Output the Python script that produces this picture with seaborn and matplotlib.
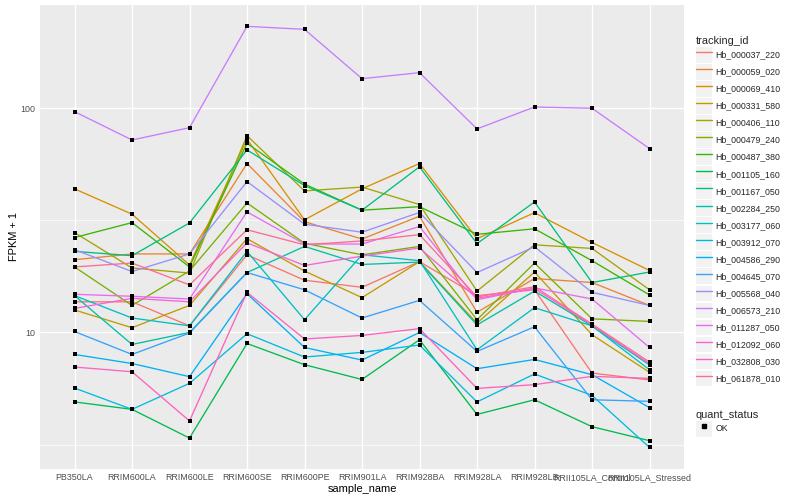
import numpy as np
import pandas as pd
import matplotlib
matplotlib.use("Agg")
import matplotlib.pyplot as plt
from matplotlib.lines import Line2D
from matplotlib.patches import Patch
import seaborn as sns

samples = ["PB350LA", "RRIM600LA", "RRIM600LE", "RRIM600SE", "RRIM600PE", "RRIM901LA",
           "RRIM928BA", "RRIM928LA", "RRIM928LB", "RRII105LA_Control", "RRII105LA_Stressed"]

tracking_ids = ["Hb_000037_220", "Hb_000059_020", "Hb_000069_410", "Hb_000331_580",
                "Hb_000406_110", "Hb_000479_240", "Hb_000487_380", "Hb_001105_160",
                "Hb_001167_050", "Hb_002284_250", "Hb_003177_060", "Hb_003912_070",
                "Hb_004586_290", "Hb_004645_070", "Hb_005568_040", "Hb_006573_210",
                "Hb_011287_050", "Hb_012092_060", "Hb_032808_030", "Hb_061878_010"]

# FPKM + 1 values per gene, in sample order
hb_000037_220 = [13.7, 13.7, 10.7, 22.2, 17.1, 15.9, 20.7, 14.6, 15.5, 6.59, 6.14]
hb_000059_020 = [21.1, 22.4, 22.4, 56.7, 31.2, 26.1, 33.0, 12.3, 17.4, 16.7, 13.2]
hb_000069_410 = [43.7, 33.7, 20.0, 72.8, 31.8, 43.7, 56.7, 26.2, 34.2, 25.2, 18.9]
hb_000331_580 = [12.6, 10.5, 13.2, 26.2, 18.8, 14.3, 20.7, 11.0, 18.6, 9.77, 6.64]
hb_000406_110 = [27.9, 19.4, 18.4, 75.5, 42.8, 44.5, 37.2, 15.3, 24.6, 23.7, 15.5]
hb_000479_240 = [19.6, 13.2, 18.8, 37.8, 25.0, 22.2, 24.2, 11.4, 20.4, 11.5, 11.2]
hb_000487_380 = [26.5, 30.9, 19.6, 69.8, 45.9, 35.1, 36.4, 27.4, 29.0, 20.9, 14.7]
hb_001105_160 = [4.90, 4.54, 3.38, 8.93, 7.18, 6.17, 9.28, 4.31, 5.01, 3.80, 3.29]
hb_001167_050 = [23.0, 22.0, 30.8, 65.2, 45.2, 35.1, 54.8, 24.9, 38.2, 16.7, 18.6]
hb_002284_250 = [14.6, 8.84, 10.0, 18.5, 24.2, 20.1, 20.6, 10.8, 15.3, 10.7, 7.16]
hb_003177_060 = [14.6, 11.6, 10.7, 23.0, 11.4, 22.2, 20.9, 8.37, 12.9, 10.7, 6.82]
hb_003912_070 = [5.65, 4.54, 5.93, 9.87, 7.77, 8.15, 8.79, 4.90, 6.53, 5.24, 3.07]
hb_004586_290 = [7.98, 7.27, 6.35, 14.9, 8.57, 7.53, 10.0, 6.89, 7.58, 6.48, 4.62]
hb_004645_070 = [10.1, 7.98, 9.94, 18.5, 15.5, 11.6, 13.9, 8.23, 10.6, 5.01, 4.93]
hb_005568_040 = [23.4, 18.7, 22.4, 47.1, 30.4, 28.0, 34.3, 18.5, 24.1, 15.1, 13.2]
hb_006573_210 = [96.6, 72.2, 81.9, 231.9, 224.9, 135.5, 144.1, 80.9, 101.3, 100.0, 66.1]
hb_011287_050 = [14.8, 14.5, 14.1, 34.5, 24.8, 24.8, 29.7, 14.0, 15.8, 14.1, 8.57]
hb_012092_060 = [12.8, 14.2, 13.7, 25.1, 19.9, 21.9, 23.8, 14.2, 15.7, 10.8, 7.25]
hb_032808_030 = [7.01, 6.68, 4.03, 15.1, 9.35, 9.70, 10.4, 5.63, 5.85, 6.37, 6.24]
hb_061878_010 = [19.6, 20.4, 16.3, 28.7, 24.6, 25.6, 27.3, 14.4, 16.0, 10.9, 7.38]

series = [hb_000037_220, hb_000059_020, hb_000069_410, hb_000331_580, hb_000406_110,
          hb_000479_240, hb_000487_380, hb_001105_160, hb_001167_050, hb_002284_250,
          hb_003177_060, hb_003912_070, hb_004586_290, hb_004645_070, hb_005568_040,
          hb_006573_210, hb_011287_050, hb_012092_060, hb_032808_030, hb_061878_010]

quant_status = "OK"

# ggplot2 default hue palette for 20 levels
colors = ["#F8766D", "#EA8331", "#D89000", "#C09B00", "#A3A500", "#7CAE00", "#39B600",
          "#00BB4E", "#00BF7D", "#00C1A3", "#00BFC4", "#00BAE0", "#00B0F6", "#35A2FF",
          "#9590FF", "#C77CFF", "#E76BF3", "#FA62DB", "#FF62BC", "#FF6C91"]

rows = []
for tid, vals in zip(tracking_ids, series):
    for s, v in zip(samples, vals):
        rows.append({"tracking_id": tid, "sample_name": s, "fpkm": v, "quant_status": quant_status})
df = pd.DataFrame(rows)

sns.set_theme(style="darkgrid")
plt.rcParams["font.family"] = ["Liberation Sans", "DejaVu Sans"]

fig = plt.figure(figsize=(8, 5), dpi=100)
ax = fig.add_axes([40 / 800, 1 - 468.5 / 500, (684 - 40) / 800, (468.5 - 5.3) / 500])
ax.set_facecolor("#EBEBEB")

sns.lineplot(data=df, x="sample_name", y="fpkm", hue="tracking_id", hue_order=tracking_ids,
             palette=colors, sort=False, estimator=None, legend=False, linewidth=0.95, ax=ax)
sns.scatterplot(data=df, x="sample_name", y="fpkm", color="black", marker="s", s=8,
                linewidth=0, legend=False, ax=ax, zorder=3)

ax.set_yscale("log")
ax.set_yticks([10, 100])
ax.set_yticklabels(["10", "100"])
ax.set_yticks([10 ** 0.5, 10 ** 1.5, 10 ** 2.5], minor=True)
ax.set_yticklabels([], minor=True)

lo, hi = np.log10(df["fpkm"].min()), np.log10(df["fpkm"].max())
pad = 0.05 * (hi - lo)
ax.set_ylim(10 ** (lo - pad), 10 ** (hi + pad))
ax.set_xlim(-0.6, len(samples) - 0.4)

ax.grid(True, which="major", color="white", linewidth=1.0)
ax.grid(True, which="minor", axis="y", color="white", linewidth=0.5)
ax.set_axisbelow(True)
for sp in ax.spines.values():
    sp.set_visible(False)

ax.tick_params(axis="both", which="major", length=2, width=0.8, color="#333333",
               labelsize=6.4, labelcolor="#4D4D4D", pad=1.5)
ax.tick_params(axis="y", which="minor", length=0)
ax.set_xlabel("sample_name", fontsize=7.9, color="black", labelpad=1)
ax.set_ylabel("FPKM + 1", fontsize=7.9, color="black", labelpad=0.5)

# legends
key_bg = "#F2F2F2"
h1 = [(Patch(facecolor=key_bg, edgecolor="none"), Line2D([], [], color=c, linewidth=1.0))
      for c in colors]
leg1 = fig.legend(h1, tracking_ids, title="tracking_id", loc="upper left",
                  bbox_to_anchor=(692 / 800, 1 - 32 / 500), frameon=False,
                  fontsize=6.3, title_fontsize=7.9, handlelength=1.85, handleheight=2.39,
                  labelspacing=0.15, handletextpad=0.45, borderaxespad=0, alignment="left")
h2 = [(Patch(facecolor=key_bg, edgecolor="none"),
       Line2D([], [], color="black", marker="s", markersize=2.4, linestyle="none"))]
leg2 = fig.legend(h2, [quant_status], title="quant_status", loc="upper left",
                  bbox_to_anchor=(692 / 800, 1 - 406 / 500), frameon=False,
                  fontsize=6.3, title_fontsize=7.9, handlelength=1.85, handleheight=2.39,
                  labelspacing=0.15, handletextpad=0.45, borderaxespad=0, alignment="left")

fig.savefig("out.png", dpi=100, facecolor="white")
